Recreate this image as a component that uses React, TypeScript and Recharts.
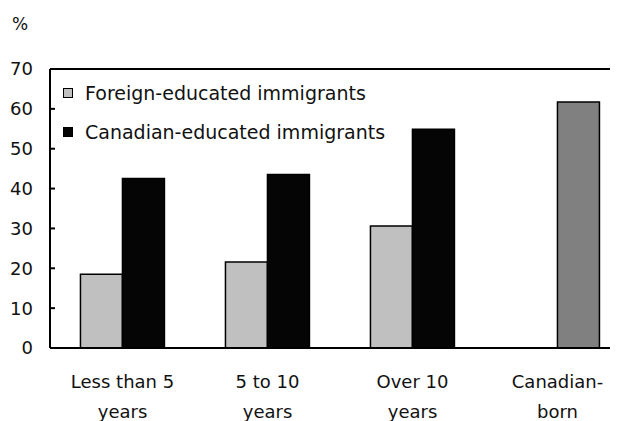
import { BarChart, Bar, XAxis, YAxis, ReferenceLine, Cell } from 'recharts'

// ── Data ─────────────────────────────────────────────────────────────────────

const categories = ['Less than 5 years', '5 to 10 years', 'Over 10 years', 'Canadian-born']
const foreignEducated = [18.5, 21.6, 30.6, null]
const canadianEducated = [42.5, 43.5, 54.9, 61.7]
const yTicks = [0, 10, 20, 30, 40, 50, 60, 70]

const SERIES = [
  { key: 'foreign', name: 'Foreign-educated immigrants', color: '#c0c0c0' },
  { key: 'canadian', name: 'Canadian-educated immigrants', color: '#050505' },
]
const BORN_COLOR = '#808080'

const data = categories.map((category, i) => ({
  category,
  foreign: foreignEducated[i],
  canadian: canadianEducated[i],
}))

const FONT = '"DejaVu Sans", sans-serif'

// split a category name into two lines: last word / after hyphen
function splitLabel(label: string): string[] {
  const sp = label.lastIndexOf(' ')
  if (sp > 0) return [label.slice(0, sp), label.slice(sp + 1)]
  const hy = label.indexOf('-')
  if (hy > 0) return [label.slice(0, hy + 1), label.slice(hy + 1)]
  return [label]
}

// eslint-disable-next-line @typescript-eslint/no-explicit-any
const CategoryTick = ({ x, y, payload }: any) => {
  const lines = splitLabel(String(payload.value))
  return (
    <g transform={`translate(${x},${y})`}>
      {lines.map((line, i) => (
        <text
          key={i}
          x={0}
          y={i * 30}
          dy={6}
          textAnchor="middle"
          fill="#111"
          style={{ fontFamily: FONT, fontSize: 18 }}
        >
          {line}
        </text>
      ))}
    </g>
  )
}

function ChartLegend() {
  return (
    <div style={{ position: 'absolute', left: 55, top: 65, fontFamily: FONT, fontSize: 19, color: '#111' }}>
      {SERIES.map((s) => (
        <div key={s.key} style={{ display: 'flex', alignItems: 'center', height: 39 }}>
          <span
            style={{
              display: 'inline-block',
              width: 8,
              height: 8,
              border: '1px solid #000',
              background: s.color,
              marginRight: 12,
            }}
          />
          <span>{s.name}</span>
        </div>
      ))}
    </div>
  )
}

export default function App() {
  return (
    <div style={{ position: 'relative', width: 610, height: 413, overflow: 'hidden', background: '#fff' }}>
      <div style={{ position: 'absolute', left: 4, top: 6, fontFamily: FONT, fontSize: 17, color: '#111' }}>%</div>
      <BarChart
        width={630}
        height={413}
        data={data}
        margin={{ top: 61, right: 8, bottom: 0, left: 0 }}
        barCategoryGap="21%"
        barGap={0}
      >
        <XAxis
          dataKey="category"
          height={73}
          tick={<CategoryTick />}
          tickLine={false}
          axisLine={{ stroke: '#000', strokeWidth: 2 }}
          tickMargin={28}
          interval={0}
        />
        <YAxis
          width={42}
          domain={[0, 70]}
          ticks={yTicks}
          interval={0}
          tickSize={-5}
          tickMargin={22}
          tick={{ fill: '#111', fontSize: 18, fontFamily: FONT }}
          tickLine={{ stroke: '#000', strokeWidth: 2 }}
          axisLine={{ stroke: '#000', strokeWidth: 2 }}
        />
        <ReferenceLine y={70} stroke="#000" strokeWidth={2} />
        {SERIES.map((s) => (
          <Bar
            key={s.key}
            dataKey={s.key}
            name={s.name}
            fill={s.color}
            stroke="#000"
            strokeWidth={1.5}
            isAnimationActive={false}
          >
            {s.key === 'canadian' &&
              data.map((d) => (
                <Cell key={d.category} fill={d.category === 'Canadian-born' ? BORN_COLOR : s.color} />
              ))}
          </Bar>
        ))}
      </BarChart>
      <ChartLegend />
    </div>
  )
}
